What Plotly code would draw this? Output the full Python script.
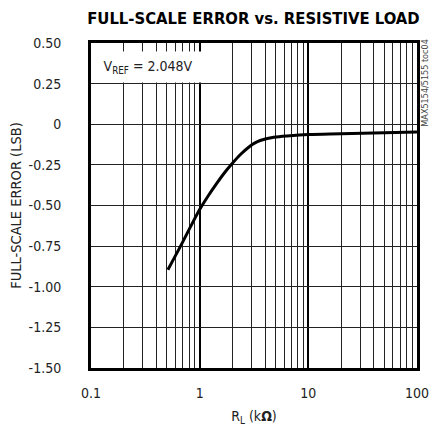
import plotly.graph_objects as go

# Data
rl_kohm = [0.51, 0.68, 0.85, 1.0, 1.2, 1.43, 1.7, 2.0, 2.4, 2.9, 3.2, 3.6, 4.8, 6.8, 10.0, 20.0, 50.0, 100.0]
fs_error = [-0.895, -0.739, -0.613, -0.525, -0.44, -0.365, -0.297, -0.24, -0.183, -0.135, -0.116, -0.10, -0.080, -0.070, -0.063, -0.058, -0.052, -0.047]

y_tickvals = [0.5, 0.25, 0, -0.25, -0.5, -0.75, -1.0, -1.25, -1.5]
y_ticktext = ["0.50", "0.25", "0", "-0.25", "-0.50", "-0.75", "-1.00", "-1.25", "-1.50"]
x_tickvals = [0.1, 1, 10, 100]
x_ticktext = ["0.1", "1", "10", "100"]

FONT = "DejaVu Sans Condensed"

fig = go.Figure()
fig.add_trace(go.Scatter(
    x=rl_kohm, y=fs_error, mode="lines",
    line=dict(color="black", width=3, shape="spline", smoothing=1.0),
    showlegend=False, hoverinfo="skip"))

fig.update_layout(
    width=431, height=429,
    margin=dict(l=91, r=14, t=43, b=61, autoexpand=False),
    paper_bgcolor="white", plot_bgcolor="white",
    font=dict(family=FONT, color="#222", size=13),
    title=dict(text="<b>FULL-SCALE ERROR vs. RESISTIVE LOAD</b>",
               x=0.588, xanchor="center", y=0.958, yanchor="middle",
               font=dict(family=FONT, size=16.5, color="black")),
    xaxis=dict(type="log", range=[-1, 2], automargin=False,
               tickvals=x_tickvals, ticktext=x_ticktext,
               showgrid=True, gridcolor="black", gridwidth=2,
               minor=dict(dtick="D1", showgrid=True, gridcolor="#222", gridwidth=1, ticks=""),
               showline=True, linecolor="black", linewidth=3, mirror=True,
               ticks="", ticklabelstandoff=10, zeroline=False,
               title=dict(text="R<sub>L</sub> (k<b>Ω</b>)", standoff=12,
                          font=dict(family=FONT, size=14, color="#222")),
               tickfont=dict(family=FONT, size=14, color="#222")),
    yaxis=dict(range=[-1.5, 0.5], automargin=False,
               tickvals=y_tickvals, ticktext=y_ticktext,
               showgrid=True, gridcolor="#222", gridwidth=1,
               showline=True, linecolor="black", linewidth=3, mirror=True,
               ticks="", ticklabelstandoff=24, zeroline=False,
               title=dict(text="FULL-SCALE ERROR (LSB)", standoff=4,
                          font=dict(family=FONT, size=14.5, color="#222")),
               tickfont=dict(family=FONT, size=14, color="#222")),
    annotations=[
        dict(text="V<sub>REF</sub> = 2.048V", xref="paper", yref="paper",
             x=0.004, y=0.975, xanchor="left", yanchor="top",
             showarrow=False, bgcolor="white", width=110, height=30,
             borderpad=0,
             font=dict(family=FONT, size=14, color="#222")),
        dict(text="MAX5154/5155 toc04", xref="paper", yref="paper",
             x=1.0, xshift=8, y=0.875, xanchor="center", yanchor="middle",
             textangle=-90, showarrow=False,
             font=dict(family=FONT, size=9, color="#444")),
    ],
)

fig.write_html("out.html", config={"displayModeBar": False},
               post_script="document.body.style.margin='0';")
